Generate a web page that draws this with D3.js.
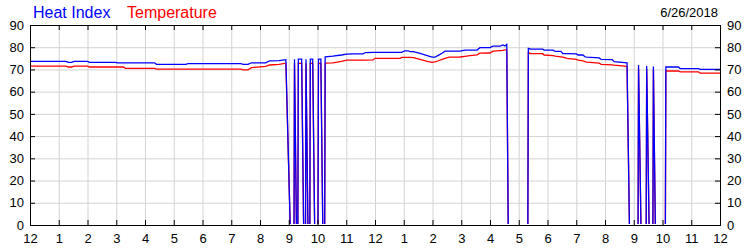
<!DOCTYPE html>
<html>
<head>
<meta charset="utf-8">
<script src="https://cdn.jsdelivr.net/npm/d3@7"></script>
<style>
  body { margin: 0; background: #fff; }
  svg { display: block; font-family: "Liberation Sans", Arial, sans-serif; }
</style>
</head>
<body>
<svg id="chart" width="750" height="250"></svg>
<script>
// DATA (6/26/2018)
const chartDate = "6/26/2018";
const seriesNames = ["Heat Index", "Temperature"];
const seriesColors = ["#0000ff", "#ff0000"];
const yTicks = [0, 10, 20, 30, 40, 50, 60, 70, 80, 90];

const times = [
  "0:00", "1:15", "1:20", "1:27", "1:32", "2:00", "2:04", "2:58", "3:03", "3:15",
  "3:19", "4:20", "4:24", "5:25", "5:30", "7:20", "7:25", "7:35", "7:42", "8:12",
  "8:20", "8:40", "8:54",
  "9:03", "9:11", "9:12", "9:16", "9:19", "9:20", "9:27", "9:31", "9:35", "9:36",
  "9:40", "9:44", "9:45", "9:50", "9:54", "10:01", "10:02", "10:07", "10:11", "10:15",
  "10:16", "10:32", "10:50", "11:01", "11:14", "11:35", "11:40", "11:56", "12:00", "12:52",
  "12:56", "13:02", "13:09", "13:13", "13:20", "13:34", "13:49", "13:59", "14:05", "14:11",
  "14:20", "14:26", "14:35", "14:57", "15:08", "15:18", "15:33", "15:39", "16:00", "16:06",
  "16:21", "16:27", "16:31", "16:35", "16:38",
  "17:19", "17:20", "17:25", "17:50", "17:53", "18:12", "18:16", "18:28", "18:32", "18:41",
  "19:00", "19:04", "19:14", "19:18", "19:22", "19:48", "19:52", "20:15", "20:19", "20:46",
  "20:51", "21:09", "21:10", "21:15", "21:26", "21:27", "21:32", "21:40", "21:41", "21:45",
  "22:06", "22:07", "22:33", "22:37", "23:15", "23:19", "24:00"
];

const heatIndex = [
  73.6, 73.6, 73.2, 73.2, 73.6, 73.6, 73.2, 73.2, 73.0, 73.0,
  73.0, 73.0, 72.3, 72.3, 72.6, 72.6, 72.3, 72.3, 73.0, 73.0,
  73.9, 74.0, 74.4,
  0, 0, 74.6, 0, 0, 74.6, 74.6, 0, 0, 74.6,
  0, 0, 74.6, 74.6, 0, 0, 74.6, 74.6, 0, 0,
  75.7, 76.0, 76.5, 76.9, 77.0, 77.0, 77.6, 77.7, 77.7, 77.7,
  77.7, 78.4, 78.4, 78.0, 78.0, 77.2, 76.2, 75.5, 75.5, 76.2,
  77.3, 78.2, 78.2, 78.2, 78.7, 78.7, 78.7, 79.8, 79.8, 80.5,
  80.5, 81.0, 80.6, 81.3, 0,
  0, 79.5, 79.1, 79.1, 78.7, 78.7, 78.1, 78.1, 77.1, 77.1,
  77.0, 76.5, 76.5, 75.7, 75.5, 75.2, 74.5, 74.4, 73.5, 73.0,
  0, 0, 72.0, 0, 0, 71.6, 0, 0, 71.3, 0,
  0, 71.1, 71.1, 70.4, 70.4, 70.0, 70.0
];

const temperature = [
  71.5, 71.5, 71.1, 71.1, 71.5, 71.5, 71.1, 71.1, 71.1, 71.1,
  70.5, 70.5, 70.1, 70.1, 70.1, 70.1, 69.8, 69.8, 70.8, 71.4,
  72.0, 72.3, 72.8,
  0, 0, 72.7, 0, 0, 72.7, 72.7, 0, 0, 72.7,
  0, 0, 72.7, 72.7, 0, 0, 72.7, 72.7, 0, 0,
  72.8, 73.0, 73.6, 74.2, 74.2, 74.2, 74.2, 74.3, 75.0, 75.0,
  75.4, 75.4, 75.4, 75.4, 75.3, 74.5, 73.6, 73.2, 73.4, 73.8,
  74.5, 75.0, 75.5, 75.6, 75.9, 76.2, 76.6, 77.3, 77.4, 78.2,
  78.5, 78.6, 78.8, 78.9, 0,
  0, 77.5, 77.1, 77.1, 76.5, 76.2, 76.0, 75.7, 75.5, 75.0,
  74.5, 74.2, 73.9, 73.5, 73.3, 72.8, 72.3, 72.1, 71.9, 71.4,
  0, 0, 70.5, 0, 0, 70.2, 0, 0, 70.0, 0,
  0, 69.3, 69.3, 68.9, 68.9, 68.3, 68.3
];

// CANVAS SETUP
const svg = d3.select("#chart");
const margin = { top: 25, right: 30, bottom: 25, left: 30 },
  width = +svg.attr("width") - margin.left - margin.right,
  height = +svg.attr("height") - margin.top - margin.bottom;

const parseTime = (s) => {
  const [h, m] = s.split(":").map(Number);
  return h + m / 60;
};

const data = times.map((t, i) => ({
  t: parseTime(t),
  heat: heatIndex[i],
  temp: temperature[i],
}));

const x = d3.scaleLinear().domain([0, 24]).range([0, width]);
const y = d3.scaleLinear().domain([0, 90]).range([height, 0]);
const hours = d3.range(0, 25);
const hourLabel = (h) => ((h % 12) === 0 ? 12 : h % 12);

const g = svg.append("g").attr("transform", `translate(${margin.left},${margin.top})`);

// plot area clip so the zero stretches hide under the bottom axis
svg.append("defs")
  .append("clipPath")
  .attr("id", "plotClip")
  .append("rect")
  .attr("x", 0)
  .attr("y", 0)
  .attr("width", width)
  .attr("height", height - 1);

// GRID
g.append("g")
  .attr("transform", `translate(0,${height})`)
  .call(d3.axisBottom(x).tickValues(hours).tickSize(-height).tickFormat(""))
  .call((s) => s.select(".domain").remove())
  .call((s) => s.selectAll("line").attr("stroke", "#d3d3d3"));

g.append("g")
  .call(d3.axisLeft(y).tickValues(yTicks).tickSize(-width).tickFormat(""))
  .call((s) => s.select(".domain").remove())
  .call((s) => s.selectAll("line").attr("stroke", "#d3d3d3"));

// LINES
const line = (key) =>
  d3.line()
    .x((d) => x(d.t))
    .y((d) => y(d[key]));

const lines = g.append("g").attr("clip-path", "url(#plotClip)");

lines.append("path")
  .datum(data)
  .attr("fill", "none")
  .attr("stroke", seriesColors[1])
  .attr("stroke-width", 1.3)
  .attr("d", line("temp"));

lines.append("path")
  .datum(data)
  .attr("fill", "none")
  .attr("stroke", seriesColors[0])
  .attr("stroke-width", 1.3)
  .attr("d", line("heat"));

// AXES
const styleAxis = (s) => {
  s.select(".domain").remove();
  s.selectAll("line").attr("stroke", "#000");
  s.selectAll("text").attr("fill", "#000").style("font-size", "13px");
};

g.append("g")
  .attr("transform", `translate(0,${height})`)
  .call(d3.axisBottom(x).tickValues(hours).tickSize(-5).tickPadding(9).tickFormat(hourLabel))
  .call(styleAxis);

g.append("g")
  .call(d3.axisTop(x).tickValues(hours).tickSize(-5).tickFormat(""))
  .call(styleAxis);

g.append("g")
  .call(d3.axisLeft(y).tickValues(yTicks).tickSize(-5).tickPadding(6))
  .call(styleAxis);

g.append("g")
  .attr("transform", `translate(${width},0)`)
  .call(d3.axisRight(y).tickValues(yTicks).tickSize(-5).tickPadding(7))
  .call(styleAxis);

g.append("rect")
  .attr("x", 0.5)
  .attr("y", 0.5)
  .attr("width", width)
  .attr("height", height)
  .attr("fill", "none")
  .attr("stroke", "#000");

// LEGEND + DATE
const legendX = [33, 127];
svg.selectAll(".legend")
  .data(seriesNames)
  .join("text")
  .attr("class", "legend")
  .attr("x", (d, i) => legendX[i])
  .attr("y", 18)
  .attr("fill", (d, i) => seriesColors[i])
  .style("font-size", "16px")
  .text((d) => d);

svg.append("text")
  .attr("x", 718)
  .attr("y", 17)
  .attr("text-anchor", "end")
  .attr("fill", "#000")
  .style("font-size", "13px")
  .text(chartDate);
</script>
</body>
</html>
